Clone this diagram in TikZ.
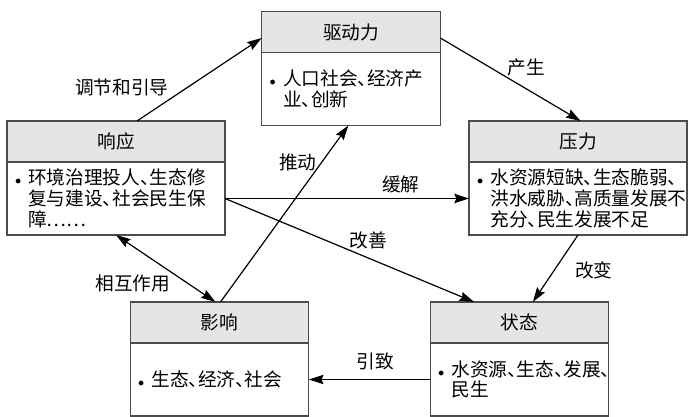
\documentclass[tikz,border=0pt]{standalone}
\usepackage{fontspec}
\setmainfont{Noto Sans CJK SC}[RawFeature=+halt]
\usetikzlibrary{arrows.meta, positioning}

\newcommand{\itm}{\makebox[13pt][l]{\hspace{3pt}{\small$\bullet$}}}
\newcommand{\cont}{\hspace*{13pt}}

\tikzset{
  hdr/.style={draw=black!70, fill=black!10, line width=0.8pt, minimum height=30.75pt, inner sep=0pt, outer sep=0pt},
  bdy/.style={draw=black!70, line width=0.8pt, minimum height=54.75pt, inner xsep=3pt, inner ysep=0pt, outer sep=0pt, align=left},
  narrow/.style={minimum width=134pt},
  wide/.style={minimum width=163.5pt},
  nbody/.style={bdy, text width=128pt},
  wbody/.style={bdy, text width=157.5pt},
}

\begin{document}
\begin{tikzpicture}[x=0.75pt, y=-0.75pt, font=\fontsize{14pt}{15.5pt}\selectfont]
\useasboundingbox (0,0) rectangle (692,417);

\begin{scope}[every node/.style={hdr}]
    \node[narrow] (drvH) at (351,32) {驱动力};
    \node[wide] (rspH) at (116,141.5) {响应};
    \node[wide] (prsH) at (578,141.5) {压力};
    \node[narrow] (impH) at (219.5,322.5) {影响};
    \node[narrow] (staH) at (519.5,322.5) {状态};
\end{scope}

\node[nbody, below=0pt of drvH] (drvB) {\itm 人口社会、经济产\\\cont 业、创新};
\node[wbody, below=0pt of rspH] (rspB) {\itm 环境治理投人、生态修\\\cont 复与建设、社会民生保\\\cont 障{\addfontfeature{RawFeature=-halt}……}};
\node[wbody, below=0pt of prsH] (prsB) {\itm 水资源短缺、生态脆弱、\\\cont 洪水威胁、高质量发展不\\\cont 充分、民生发展不足};
\node[nbody, below=0pt of impH] (impB) {\itm 生态、经济、社会};
\node[nbody, below=0pt of staH] (staB) {\itm 水资源、生态、发展、\\\cont 民生};

\begin{scope}[>={Stealth[length=11pt,width=7pt,inset=1.5pt]},
              every edge/.style={draw=black, line width=0.9pt}]
    \path [->] ([xshift=15.75pt]rspH.north) edge node[left=10pt, pos=0.4] {调节和引导} ([yshift=-4.5pt]drvH.west);
    \path [->] ([yshift=-4.5pt]drvH.east) edge node[right=10pt, pos=0.35] {产生} ([xshift=2pt]prsH.north);
    \path [->] (rspB.east) edge node[above, pos=0.72] {缓解} (prsB.west);
    \path [->] (rspB.east) edge node[above=3pt, pos=0.574] {改善} ([xshift=-34pt]staH.north);
    \path [->] (prsB.south) edge node[right=12pt, pos=0.53] {改变} ([xshift=10pt]staH.north);
    \path [->] (staB.west) edge node[above=3pt, pos=0.45] {引致} (impB.east);
    \path [->] ([xshift=0.75pt]impH.north) edge node[left, pos=0.79] {推动} ([xshift=-2pt]drvB.south);
    \path [<->] (rspB.south) edge node[left=10pt, pos=0.73] {相互作用} ([xshift=-3pt]impH.north);
\end{scope}
\end{tikzpicture}
\end{document}
